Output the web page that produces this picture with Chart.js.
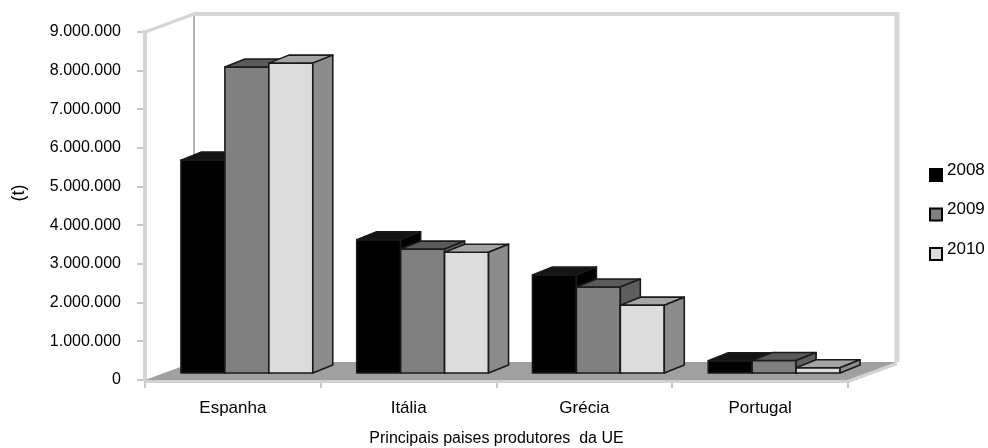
<!DOCTYPE html>
<html lang="pt">
<head>
<meta charset="utf-8">
<title>Produção na UE</title>
<script src="https://cdn.jsdelivr.net/npm/chart.js@4.4.1/dist/chart.umd.min.js"></script>
<style>
    html, body {margin: 0; padding: 0; background: #ffffff;}
    canvas {display: block;}
</style>
</head>
<body>
<canvas id="graficoProducao" width="988" height="448"></canvas>
<script>
// Dados (t)
const categorias = ["Espanha", "Itália", "Grécia", "Portugal"];
const anos = ["2008", "2009", "2010"];
const producao2008 = [5530000, 3470000, 2560000, 340000];
const producao2009 = [7940000, 3230000, 2250000, 350000];
const producao2010 = [8040000, 3150000, 1780000, 160000];
const eixoMax = 9000000;
const eixoPasso = 1000000;
const unidade = "(t)";

// Cores de cada série: frente, topo e lado
const coresFrente = ["#000000", "#808080", "#dcdcdc"];
const coresTopo = ["#141414", "#5a5a5a", "#a4a4a4"];
const coresLado = ["#000000", "#5e5e5e", "#8c8c8c"];

const FONTE = "'Liberation Sans', Arial, sans-serif";

// Perspectiva: fundo do chão, recuo das barras e espessura das barras
const PROF = {x: 49, y: -18};
const RECUO = {x: 14, y: -6};
const PROF_BARRA = {x: 20, y: -8};

function formatarMilhar(valor) {
    return String(valor).replace(/\B(?=(\d{3})+(?!\d))/g, ".");
}

function poligono(ctx, pontos, cor) {
    ctx.beginPath();
    ctx.moveTo(pontos[0][0], pontos[0][1]);
    for (let i = 1; i < pontos.length; i++) {ctx.lineTo(pontos[i][0], pontos[i][1]);}
    ctx.closePath();
    ctx.fillStyle = cor;
    ctx.fill();
    ctx.stroke();
}

function linha(ctx, x1, y1, x2, y2, cor, largura) {
    ctx.beginPath();
    ctx.moveTo(x1, y1);
    ctx.lineTo(x2, y2);
    ctx.strokeStyle = cor;
    ctx.lineWidth = largura;
    ctx.stroke();
}

// Paredes e chão da caixa 3D
function desenharCaixa(ctx, a) {
    ctx.save();
    ctx.beginPath();
    ctx.moveTo(a.left, a.bottom);
    ctx.lineTo(a.right, a.bottom);
    ctx.lineTo(a.right + PROF.x, a.bottom + PROF.y);
    ctx.lineTo(a.left + PROF.x, a.bottom + PROF.y);
    ctx.closePath();
    ctx.fillStyle = "#a0a0a0";
    ctx.fill();

    ctx.fillStyle = "#d2d2d2";
    ctx.fillRect(a.left, a.bottom, a.right - a.left, 3);
    linha(ctx, a.right, a.bottom + 1.5, a.right + PROF.x, a.bottom + PROF.y + 1.5, "#d2d2d2", 3);

    linha(ctx, a.left + PROF.x, a.top + PROF.y, a.left + PROF.x, a.bottom + PROF.y, "#b4b4b4", 2);
    linha(ctx, a.left, a.top, a.left + PROF.x, a.top + PROF.y, "#d4d4d4", 3);
    linha(ctx, a.left + PROF.x - 1, a.top + PROF.y, a.right + PROF.x, a.top + PROF.y, "#d6d6d6", 4);
    linha(ctx, a.right + PROF.x, a.top + PROF.y - 2, a.right + PROF.x, a.bottom + PROF.y, "#d6d6d6", 5);
    ctx.restore();
}

// Barras com topo e lado, da esquerda para a direita
function desenharBarras(chart) {
    const ctx = chart.ctx;
    ctx.save();
    ctx.strokeStyle = "#1a1a1a";
    ctx.lineWidth = 1.6;
    ctx.lineJoin = "round";
    for (let j = 0; j < categorias.length; j++) {
        chart.data.datasets.forEach((ds, i) => {
            const el = chart.getDatasetMeta(i).data[j];
            const p = el.getProps(["x", "y", "base", "width"], true);
            const esq = p.x - p.width / 2 + RECUO.x;
            const dir = p.x + p.width / 2 + RECUO.x;
            const topo = p.y + RECUO.y;
            const base = p.base + RECUO.y;
            const dx = PROF_BARRA.x, dy = PROF_BARRA.y;

            poligono(ctx, [[esq, topo], [dir, topo], [dir, base], [esq, base]], coresFrente[i]);
            poligono(ctx, [[esq, topo], [esq + dx, topo + dy], [dir + dx, topo + dy], [dir, topo]], coresTopo[i]);
            poligono(ctx, [[dir, topo], [dir + dx, topo + dy], [dir + dx, base + dy], [dir, base]], coresLado[i]);
        });
    }
    ctx.restore();
}

// Legenda à direita e unidade do eixo vertical
function desenharTextos(chart) {
    const ctx = chart.ctx;
    ctx.save();
    ctx.font = "17px " + FONTE;
    ctx.textBaseline = "middle";
    ctx.textAlign = "left";
    chart.data.datasets.forEach((ds, i) => {
        const y = 170 + i * 39.5;
        ctx.fillStyle = ds.backgroundColor;
        ctx.fillRect(930, y - 1, 12, 12);
        ctx.strokeStyle = "#000000";
        ctx.lineWidth = 2;
        ctx.strokeRect(930, y - 1, 12, 12);
        ctx.fillStyle = "#000000";
        ctx.fillText(ds.label, 947, y);
    });

    ctx.translate(19, 193);
    ctx.rotate(-Math.PI / 2);
    ctx.font = "18px " + FONTE;
    ctx.textAlign = "center";
    ctx.fillText(unidade, 0, 0);
    ctx.restore();
}

const cena3d = {
    id: "cena3d",
    beforeDatasetsDraw(chart) {
        desenharCaixa(chart.ctx, chart.chartArea);
        desenharBarras(chart);
        return false;
    },
    afterDraw(chart) {
        desenharTextos(chart);
    }
};

const series = [producao2008, producao2009, producao2010];

new Chart(
    document.getElementById("graficoProducao"),
    {
        type: "bar",
        data: {
            labels: categorias,
            datasets: anos.map((ano, i) => ({
                label: ano,
                data: series[i],
                backgroundColor: coresFrente[i],
                barPercentage: 1,
                categoryPercentage: 0.75
            }))
        },
        options: {
            responsive: false,
            animation: false,
            events: [],
            layout: {padding: {top: 32, right: 140, left: 0, bottom: 0}},
            plugins: {legend: {display: false}, tooltip: {enabled: false}},
            scales: {
                x: {
                    grid: {offset: true, drawOnChartArea: false, tickLength: 8, color: "#c8c8c8", lineWidth: 2},
                    border: {display: false},
                    ticks: {padding: 10, color: "#000000", font: {family: FONTE, size: 17}},
                    title: {
                        display: true,
                        text: "Principais paises produtores  da UE",
                        color: "#000000",
                        font: {family: FONTE, size: 16},
                        padding: {top: 0, bottom: 0}
                    },
                    afterFit: scale => {scale.height = 68;}
                },
                y: {
                    min: 0,
                    max: eixoMax,
                    ticks: {
                        stepSize: eixoPasso,
                        padding: 16,
                        color: "#000000",
                        font: {family: FONTE, size: 16},
                        callback: valor => formatarMilhar(valor)
                    },
                    grid: {drawOnChartArea: false, tickLength: 8, color: "#c8c8c8", lineWidth: 2},
                    border: {display: true, color: "#d4d4d4", width: 4},
                    afterFit: scale => {scale.width = 145;}
                }
            }
        },
        plugins: [cena3d]
    }
);
</script>
</body>
</html>
